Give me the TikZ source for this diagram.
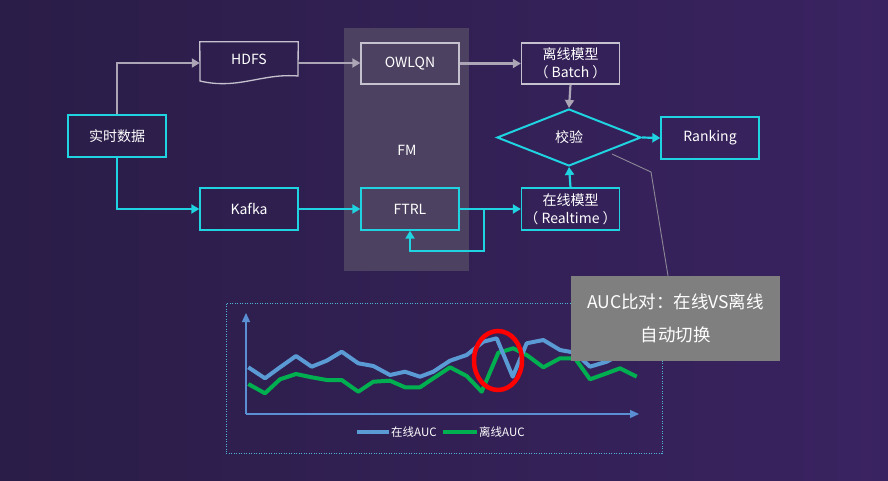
\documentclass[tikz,border=0pt]{standalone}
\usepackage{fontspec}
\setmainfont{Noto Sans CJK SC}
\usetikzlibrary{shapes.geometric,arrows.meta,calc}
\definecolor{bgl}{HTML}{2A1D47}
\definecolor{bgr}{HTML}{3A2361}
\definecolor{panel}{HTML}{4C4160}
\definecolor{cy}{HTML}{1FD3E0}
\definecolor{gbox}{HTML}{C6C1CE}
\definecolor{garr}{HTML}{ABA5B5}
\definecolor{axisc}{HTML}{5B8FD3}
\definecolor{blueauc}{HTML}{5B9BD5}
\definecolor{greenauc}{HTML}{00B050}
\definecolor{callout}{HTML}{7F7F7F}
\definecolor{leader}{HTML}{8C8898}
\definecolor{frame}{HTML}{4FB7D6}
\begin{document}
\begin{tikzpicture}[x=1pt,y=-1pt,
  txt/.style={text=white,font=\fontsize{14}{18}\selectfont,align=center},
  cbox/.style={txt,draw=cy,line width=1.3pt,minimum width=98pt,minimum height=42pt,inner sep=0pt},
  gboxs/.style={txt,draw=gbox,line width=1.3pt,minimum width=98pt,minimum height=41pt,inner sep=0pt},
  carr/.style={draw=cy,line width=2.2pt,-{Triangle[length=8pt,width=9pt]}},
  garrs/.style={draw=garr,line width=2.2pt,-{Triangle[length=8pt,width=9pt]}},
  aucline/.style={line width=4pt,line join=round},
]
\useasboundingbox (0,0) rectangle (888,481);
\shade[left color=bgl,right color=bgr] (0,0) rectangle (888,481);
% FM panel
\fill[panel] (344,28) rectangle (469,271);
\node[txt] (fm) at (407,150) {FM};

% nodes
\node[cbox] (src) at (117,136) {实时数据};
\node[txt,minimum width=98pt,minimum height=38pt,inner sep=0pt] (hdfs) at (249,61) {};
\draw[gbox,line width=1.3pt] (hdfs.north west) -- (hdfs.north east) -- (298,76)
   .. controls (262,73) and (238,90) .. (200,81) -- cycle;
\node[txt] (hdfst) at (249,59) {HDFS};
\node[gboxs] (owl) at (410,63.5) {OWLQN};
\node[gboxs] (batch) at (570.5,63.5) {离线模型\\（ Batch ）};
\node[cbox] (kafka) at (249,209) {Kafka};
\node[cbox] (ftrl) at (410,209) {FTRL};
\node[cbox] (rt) at (570.5,209) {在线模型\\（ Realtime ）};
\node[txt,diamond,draw=cy,line width=2pt,minimum width=144pt,minimum height=57pt,inner sep=0pt] (chk) at (569,137.5) {校验};
\node[cbox] (rank) at (710,138) {Ranking};

% connectors
\draw[garrs] (src.north) |- (hdfs.west |- 0,63);
\draw[garrs] (hdfs.east |- 0,63) -- (owl.west |- 0,63);
\draw[garrs] (owl.east) -- (batch.west);
\draw[garrs] (batch.south) -- (chk.north);
\draw[carr] (src.south) |- (kafka.west);
\draw[carr] (kafka.east) -- (ftrl.west);
\draw[carr] (ftrl.east) -- (rt.west);
\coordinate (br) at (484,209);
\coordinate (lp) at (484,251);
\draw[carr] (br) -- (lp) -| (ftrl.south);
\draw[carr] (rt.north) -- (chk.south);
\draw[carr] (chk.east) -- (rank.west);

% chart
\node[draw=frame,line width=0.9pt,dash pattern=on 1pt off 1.5pt,minimum width=436pt,minimum height=150pt,inner sep=0pt] (chart) at (444,378) {};
\coordinate (orig) at (246,414);
\coordinate (ytop) at (246,313);
\coordinate (xend) at (639,414);
\draw[axisc,line width=1.3pt,-{Triangle[length=9pt,width=8pt]}] (orig) -- (ytop);
\draw[axisc,line width=1.3pt,-{Triangle[length=9pt,width=8pt]}] (orig) -- (xend);
\draw[greenauc,aucline] (248.3,384) -- (265,393.3) -- (280,379.3) -- (296,374) -- (311.7,377.3) -- (326.7,380) -- (341.7,380) -- (358.3,391.7) -- (373.3,381.7) -- (390,380.7) -- (405,387.3) -- (420,387.3) -- (433.3,378.3) -- (450,367.3) -- (466.7,376) -- (481.7,391.7) -- (498.3,352.7) -- (513.3,348.3) -- (526.7,355) -- (543.3,367.3) -- (560,358.3) -- (575,358.3) -- (590,379.3) -- (606.7,373.3) -- (620,368.3) -- (636.7,376.7);
\draw[blueauc,aucline] (248.3,367.3) -- (265,378.3) -- (280,367.3) -- (296,356) -- (311.7,366.7) -- (326.7,360.7) -- (341.7,351.7) -- (358.3,363.3) -- (373.3,366) -- (390,375) -- (405,371.7) -- (420,376.7) -- (433.3,371.7) -- (450,360.7) -- (466.7,355) -- (483.3,341.7) -- (496.7,338.3) -- (512.7,376.7) -- (526.7,343.3) -- (543.3,340) -- (560,350) -- (575,352.7) -- (590,366.7) -- (606.7,361.7) -- (625,352);
\draw[red,line width=4.5pt] (498,360.5) ellipse [x radius=24, y radius=29.5];
% legend
\coordinate (lb1) at (357,432);
\coordinate (lb2) at (389,432);
\draw[blueauc,line width=4pt] (lb1) -- (lb2);
\node[text=white,font=\fontsize{11.5}{13}\selectfont,anchor=west,inner sep=1pt] (lg1) at (390,432) {在线AUC};
\coordinate (lg2a) at (443,432);
\coordinate (lg2b) at (477,432);
\draw[greenauc,line width=4pt] (lg2a) -- (lg2b);
\node[text=white,font=\fontsize{11.5}{13}\selectfont,anchor=west,inner sep=1pt] (lg2) at (478,432) {离线AUC};

% callout
\coordinate (ld0) at (612,154);
\coordinate (ld1) at (651,172);
\node[fill=callout,text=white,font=\fontsize{17.5}{33}\selectfont,align=center,minimum width=209pt,minimum height=85pt,inner sep=0pt] (call) at (675.5,318.5) {AUC比对：在线VS离线\\自动切换};
\draw[leader,line width=0.9pt] (ld0) -- (ld1) -- (call.north -| 668,0);
\end{tikzpicture}
\end{document}
